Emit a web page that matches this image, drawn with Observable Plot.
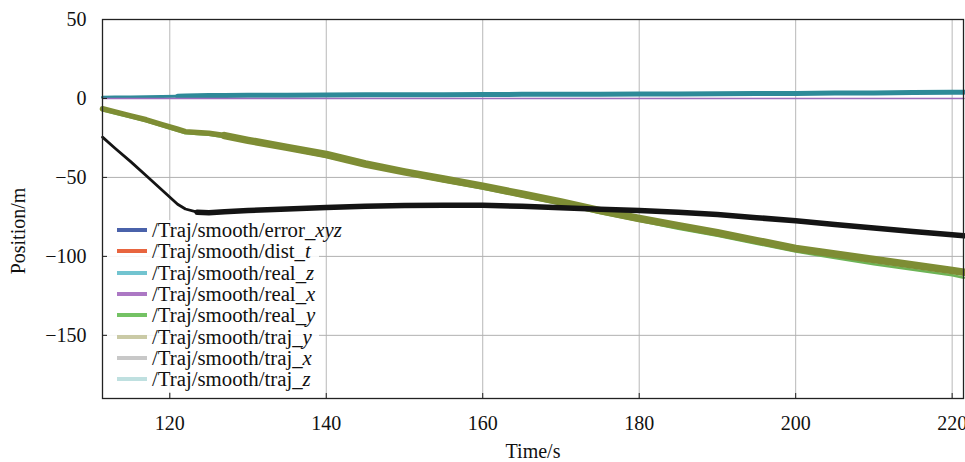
<!DOCTYPE html>
<html>
<head>
<meta charset="utf-8">
<script src="https://cdn.jsdelivr.net/npm/d3@7"></script>
<script src="https://cdn.jsdelivr.net/npm/@observablehq/plot@0.6"></script>
<style>
  html, body { margin: 0; padding: 0; background: #fff; }
  #wrap { position: relative; width: 965px; height: 462px; font-family: "Liberation Serif", "DejaVu Serif", Tinos, "Times New Roman", Times, serif; }
  #legend { position: absolute; left: 107px; top: 220px; width: 212px; height: 172px; background: rgba(255,255,255,0.88); }
  #legendRows { position: absolute; left: 0; top: 219px; }
  .row { position: absolute; left: 0; height: 21.3px; line-height: 21.3px; white-space: nowrap; font-size: 20.8px; color: #111; font-family: "Liberation Serif", "DejaVu Serif", serif; overflow: visible; }
  .sw { position: absolute; top: 9px; height: 4px; width: 30px; }
  .lab { position: absolute; left: 152px; top: 0; display: inline-block; height: 21.3px; line-height: 21.3px; overflow: visible; }
  .lab i { font-style: italic; }
</style>
</head>
<body>
<div id="wrap"></div>
<script>
// ---- data ----
const time  = [111.4, 113, 115, 117, 119, 121, 122, 123.5, 125, 127, 130, 135, 140, 145, 150, 155, 160, 165, 170, 175, 180, 185, 190, 195, 200, 205, 210, 215, 220, 221.5];
const trajX = [-24.5, -31.5, -40, -49, -58, -67, -70, -72, -72.3, -71.8, -71, -70, -69, -68.3, -67.8, -67.6, -67.7, -68.3, -69.2, -70.2, -71, -72, -73.5, -75.5, -77.5, -79.8, -82, -84.3, -86.3, -87];
const trajY = [-6.5, -8.5, -11, -13.5, -16.5, -19.5, -21, -21.5, -22, -23.5, -26.5, -31, -35.5, -41.5, -46.5, -51, -55.5, -60.5, -65.5, -71, -76, -80.5, -85, -90, -95, -98.5, -102, -105.5, -109, -110];
const realY = [-7.5, -9.5, -12, -14.5, -17.5, -20.5, -22, -22.5, -23, -24.5, -27.5, -32, -37, -42.5, -47.5, -52.5, -57, -62, -67, -72.5, -77.5, -82.5, -87, -92, -97, -101, -105, -108.5, -112, -113.5];
const realZ = [0.8, 0.9, 1.0, 1.1, 1.2, 1.4, 1.5, 1.7, 1.8, 1.9, 2.0, 2.1, 2.2, 2.3, 2.4, 2.4, 2.5, 2.6, 2.7, 2.7, 2.8, 2.9, 3.0, 3.1, 3.2, 3.4, 3.5, 3.7, 3.9, 4.0];
const errXYZ = [0, 0, 0, 0, 0, 0, 0, 0, 0, 0, 0, 0, 0, 0, 0, 0, 0, 0, 0, 0, 0, 0, 0, 0, 0, 0, 0, 0, 0, 0];

const xTicks = [120, 140, 160, 180, 200, 220];
const yTicks = [50, 0, -50, -100, -150];

const legendBase   = ["/Traj/smooth/error_", "/Traj/smooth/dist_", "/Traj/smooth/real_", "/Traj/smooth/real_", "/Traj/smooth/real_", "/Traj/smooth/traj_", "/Traj/smooth/traj_", "/Traj/smooth/traj_"];
const legendItalic = ["xyz", "t", "z", "x", "y", "y", "x", "z"];
const legendColors = ["#4a62aa", "#e8653f", "#72c4d0", "#ac78c4", "#74c264", "#cacaa6", "#c8c8c8", "#bfe0e0"];

// ---- build tables ----
const rows = (ys) => time.map((t, i) => ({t, v: ys[i]}));
const part = (ys, lo, hi) => rows(ys).filter(d => d.t >= lo && d.t <= hi);

const font = '"Liberation Serif", "DejaVu Serif", Tinos, "Times New Roman", Times, serif';

const chart = Plot.plot({
  width: 965,
  height: 462,
  marginLeft: 102,
  marginRight: 2,
  marginTop: 19,
  marginBottom: 64,
  style: {fontFamily: font, fontSize: "20px", color: "#111", background: "#fff"},
  x: {domain: [111.4, 221.45], ticks: xTicks, label: null},
  y: {domain: [-190, 50], ticks: yTicks, label: null},
  marks: [
    Plot.gridX(xTicks, {stroke: "#b8b8b8", strokeOpacity: 1}),
    Plot.gridY(yTicks, {stroke: "#b0b0b0", strokeOpacity: 1}),
    Plot.line(part(realZ, 0, 121), {x: "t", y: "v", stroke: "#2e8a98", strokeWidth: 3}),
    Plot.line(part(realZ, 121, 999), {x: "t", y: "v", stroke: "#2e8a98", strokeWidth: 5}),
    Plot.line(rows(errXYZ), {x: "t", y: "v", stroke: "#9c6cbc", strokeWidth: 1.6}),
    Plot.line(rows(realY), {x: "t", y: "v", stroke: "#6db456", strokeWidth: 2.5}),
    Plot.line(part(trajY, 0, 127), {x: "t", y: "v", stroke: "#7e8d34", strokeWidth: 5.5}),
    Plot.line(part(trajY, 127, 999), {x: "t", y: "v", stroke: "#7e8d34", strokeWidth: 7.5}),
    Plot.line(part(trajX, 0, 123.5), {x: "t", y: "v", stroke: "#141414", strokeWidth: 2.8}),
    Plot.line(part(trajX, 123.5, 999), {x: "t", y: "v", stroke: "#141414", strokeWidth: 5.5}),
    Plot.frame({stroke: "#222", strokeWidth: 1.3}),
    Plot.axisY(yTicks, {tickSize: -5, tickPadding: 21, stroke: "#222", fontSize: 20, fontFamily: font}),
    Plot.axisX(xTicks, {tickSize: -5, tickPadding: 22, stroke: "#222", fontSize: 20, fontFamily: font}),
    Plot.text(["Position/m"], {frameAnchor: "left", textAnchor: "middle", lineAnchor: "middle", dx: -84, dy: 22, rotate: -90, fontSize: 20, fontFamily: font, fill: "#111"}),
    Plot.text(["Time/s"], {frameAnchor: "bottom", textAnchor: "middle", lineAnchor: "middle", dy: 53, fontSize: 20, fontFamily: font, fill: "#111"})
  ]
});

const wrap = document.getElementById("wrap");
wrap.appendChild(chart);

const box = document.createElement("div");
box.id = "legend";
wrap.appendChild(box);

const rowsDiv = document.createElement("div");
rowsDiv.id = "legendRows";
legendBase.forEach((b, i) => {
  const r = document.createElement("div");
  r.className = "row";
  r.style.top = (i * 21.3) + "px";
  const sw = document.createElement("div");
  sw.className = "sw";
  sw.style.left = "117px";
  sw.style.background = legendColors[i];
  r.appendChild(sw);
  const lab = document.createElement("span");
  lab.className = "lab";
  lab.textContent = b;
  const it = document.createElement("i");
  it.textContent = legendItalic[i];
  lab.appendChild(it);
  r.appendChild(lab);
  rowsDiv.appendChild(r);
});
wrap.appendChild(rowsDiv);
</script>
</body>
</html>
